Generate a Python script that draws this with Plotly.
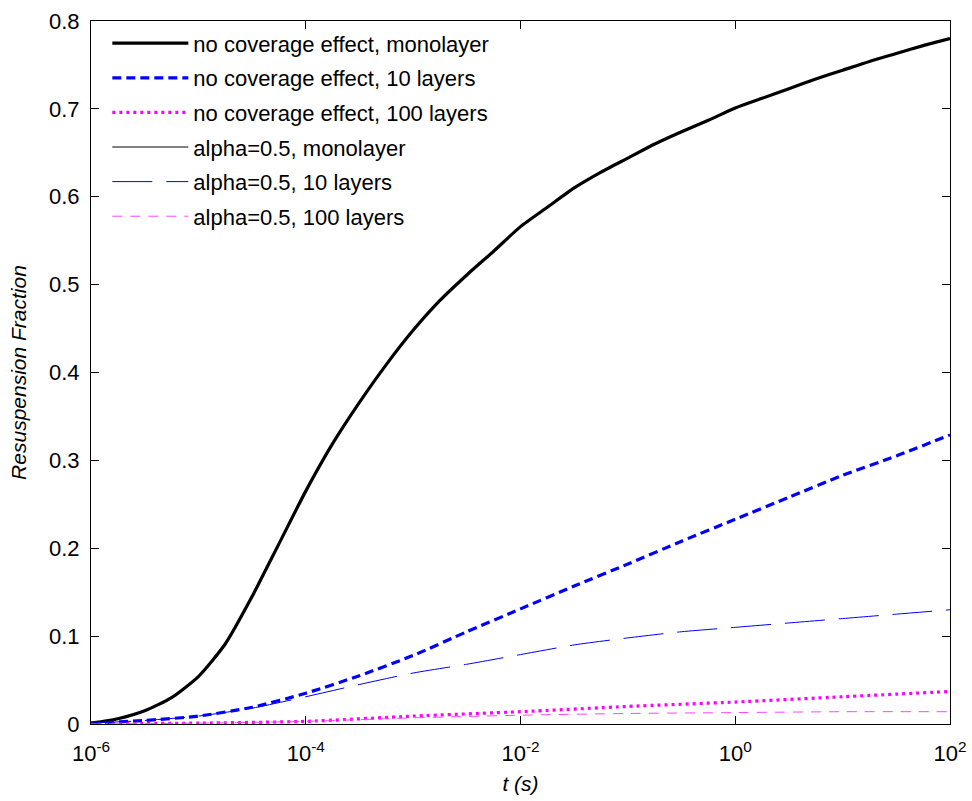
import plotly.graph_objects as go

# exponents of t (log10 seconds)
exp_fine = [-6, -5.75, -5.5, -5.25, -5.0, -4.75, -4.5, -4.25, -4.0, -3.75, -3.5, -3.25,
            -3.0, -2.75, -2.5, -2.25, -2.0, -1.75, -1.5, -1.25, -1.0, -0.75, -0.5, -0.25,
            0.0, 0.25, 0.5, 0.75, 1.0, 1.25, 1.5, 1.75, 2.0]
mono_nocov = [0.001, 0.006, 0.015, 0.030, 0.054, 0.091, 0.145, 0.205, 0.265, 0.319, 0.366, 0.409,
              0.448, 0.482, 0.511, 0.538, 0.566, 0.588, 0.610, 0.628, 0.644, 0.660, 0.674, 0.687,
              0.701, 0.712, 0.723, 0.734, 0.744, 0.754, 0.763, 0.772, 0.780]
mono_alpha = [0.001, 0.006, 0.015, 0.030, 0.054, 0.091, 0.145, 0.205, 0.265, 0.319, 0.366, 0.409,
              0.448, 0.482, 0.511, 0.538, 0.566, 0.588, 0.610, 0.628, 0.644, 0.660, 0.674, 0.687,
              0.701, 0.712, 0.723, 0.734, 0.744, 0.754, 0.763, 0.772, 0.780]

exp_half = [-6, -5.5, -5.0, -4.5, -4.0, -3.5, -3.0, -2.5, -2.0, -1.5, -1.0, -0.5,
            0.0, 0.5, 1.0, 1.5, 2.0]
ten_nocov = [0.001, 0.004, 0.009, 0.019, 0.035, 0.055, 0.078, 0.105, 0.131, 0.157, 0.182, 0.208,
             0.233, 0.258, 0.283, 0.305, 0.329]
ten_alpha = [0.001, 0.004, 0.009, 0.018, 0.031, 0.045, 0.058, 0.068, 0.079, 0.090, 0.098, 0.105,
             0.110, 0.115, 0.120, 0.125, 0.130]

exp_int = [-6, -5, -4, -3, -2, -1, 0, 1, 2]
hundred_nocov = [0.000, 0.001, 0.003, 0.009, 0.014, 0.020, 0.025, 0.031, 0.037]
hundred_alpha = [0.000, 0.001, 0.003, 0.007, 0.010, 0.012, 0.013, 0.014, 0.014]

x_tick_exps = [-6, -4, -2, 0, 2]
x_tick_text = ["10<sup>-6</sup>", "10<sup>-4</sup>", "10<sup>-2</sup>", "10<sup>0</sup>", "10<sup>2</sup>"]
y_ticks = [0, 0.1, 0.2, 0.3, 0.4, 0.5, 0.6, 0.7, 0.8]
y_tick_text = ["0", "0.1", "0.2", "0.3", "0.4", "0.5", "0.6", "0.7", "0.8"]


def t_of(exps):
    return [10 ** e for e in exps]


series = [
    ("no coverage effect, monolayer", exp_fine, mono_nocov, "#000000", 3.2, "solid"),
    ("no coverage effect, 10 layers", exp_half, ten_nocov, "#0000ff", 3.2, "9px,5px"),
    ("no coverage effect, 100 layers", exp_int, hundred_nocov, "#ff00ff", 3.2, "3px,4px"),
    ("alpha=0.5, monolayer", exp_fine, mono_alpha, "#000000", 1, "solid"),
    ("alpha=0.5, 10 layers", exp_half, ten_alpha, "#0000ff", 1, "40px,14px"),
    ("alpha=0.5, 100 layers", exp_int, hundred_alpha, "#ff44ff", 1, "10px,8px"),
]

fig = go.Figure()
for i, (name, ex, vals, col, w, dash) in enumerate(series):
    fig.add_trace(go.Scatter(
        x=t_of(ex), y=vals, mode="lines", name=name, legendgroup=f"g{i}",
        line=dict(color=col, width=w, dash=dash, shape="spline", smoothing=0.6),
    ))

font = "Liberation Sans, Arial, Helvetica, sans-serif"
fig.update_layout(
    width=972, height=801,
    margin=dict(l=91, r=22, t=21, b=77),
    paper_bgcolor="white", plot_bgcolor="white",
    font=dict(family=font, size=21, color="black"),
    showlegend=True,
    legend=dict(x=0.019, y=0.998, xanchor="left", yanchor="top",
                bgcolor="rgba(0,0,0,0)", borderwidth=0,
                font=dict(family=font, size=22, color="black"),
                traceorder="grouped", tracegroupgap=3, itemwidth=76),
    xaxis=dict(
        type="log", range=[-6, 2], automargin=False,
        tickmode="array", tickvals=t_of(x_tick_exps), ticktext=x_tick_text,
        ticks="inside", ticklen=8, tickcolor="black", tickwidth=1,
        showline=True, linecolor="black", linewidth=1, mirror="ticks",
        showgrid=False, zeroline=False,
        tickfont=dict(family=font, size=22), ticklabelstandoff=10,
        title=dict(text="<i>t (s)</i>", font=dict(family=font, size=21), standoff=10),
    ),
    yaxis=dict(
        range=[0, 0.8], automargin=False,
        tickmode="array", tickvals=y_ticks, ticktext=y_tick_text,
        ticks="inside", ticklen=8, tickcolor="black", tickwidth=1,
        showline=True, linecolor="black", linewidth=1, mirror="ticks",
        showgrid=False, zeroline=False,
        tickfont=dict(family=font, size=22), ticklabelstandoff=6,
        title=dict(text="<i>Resuspension Fraction</i>", font=dict(family=font, size=21), standoff=16),
    ),
)

fig.write_html("out.html")
